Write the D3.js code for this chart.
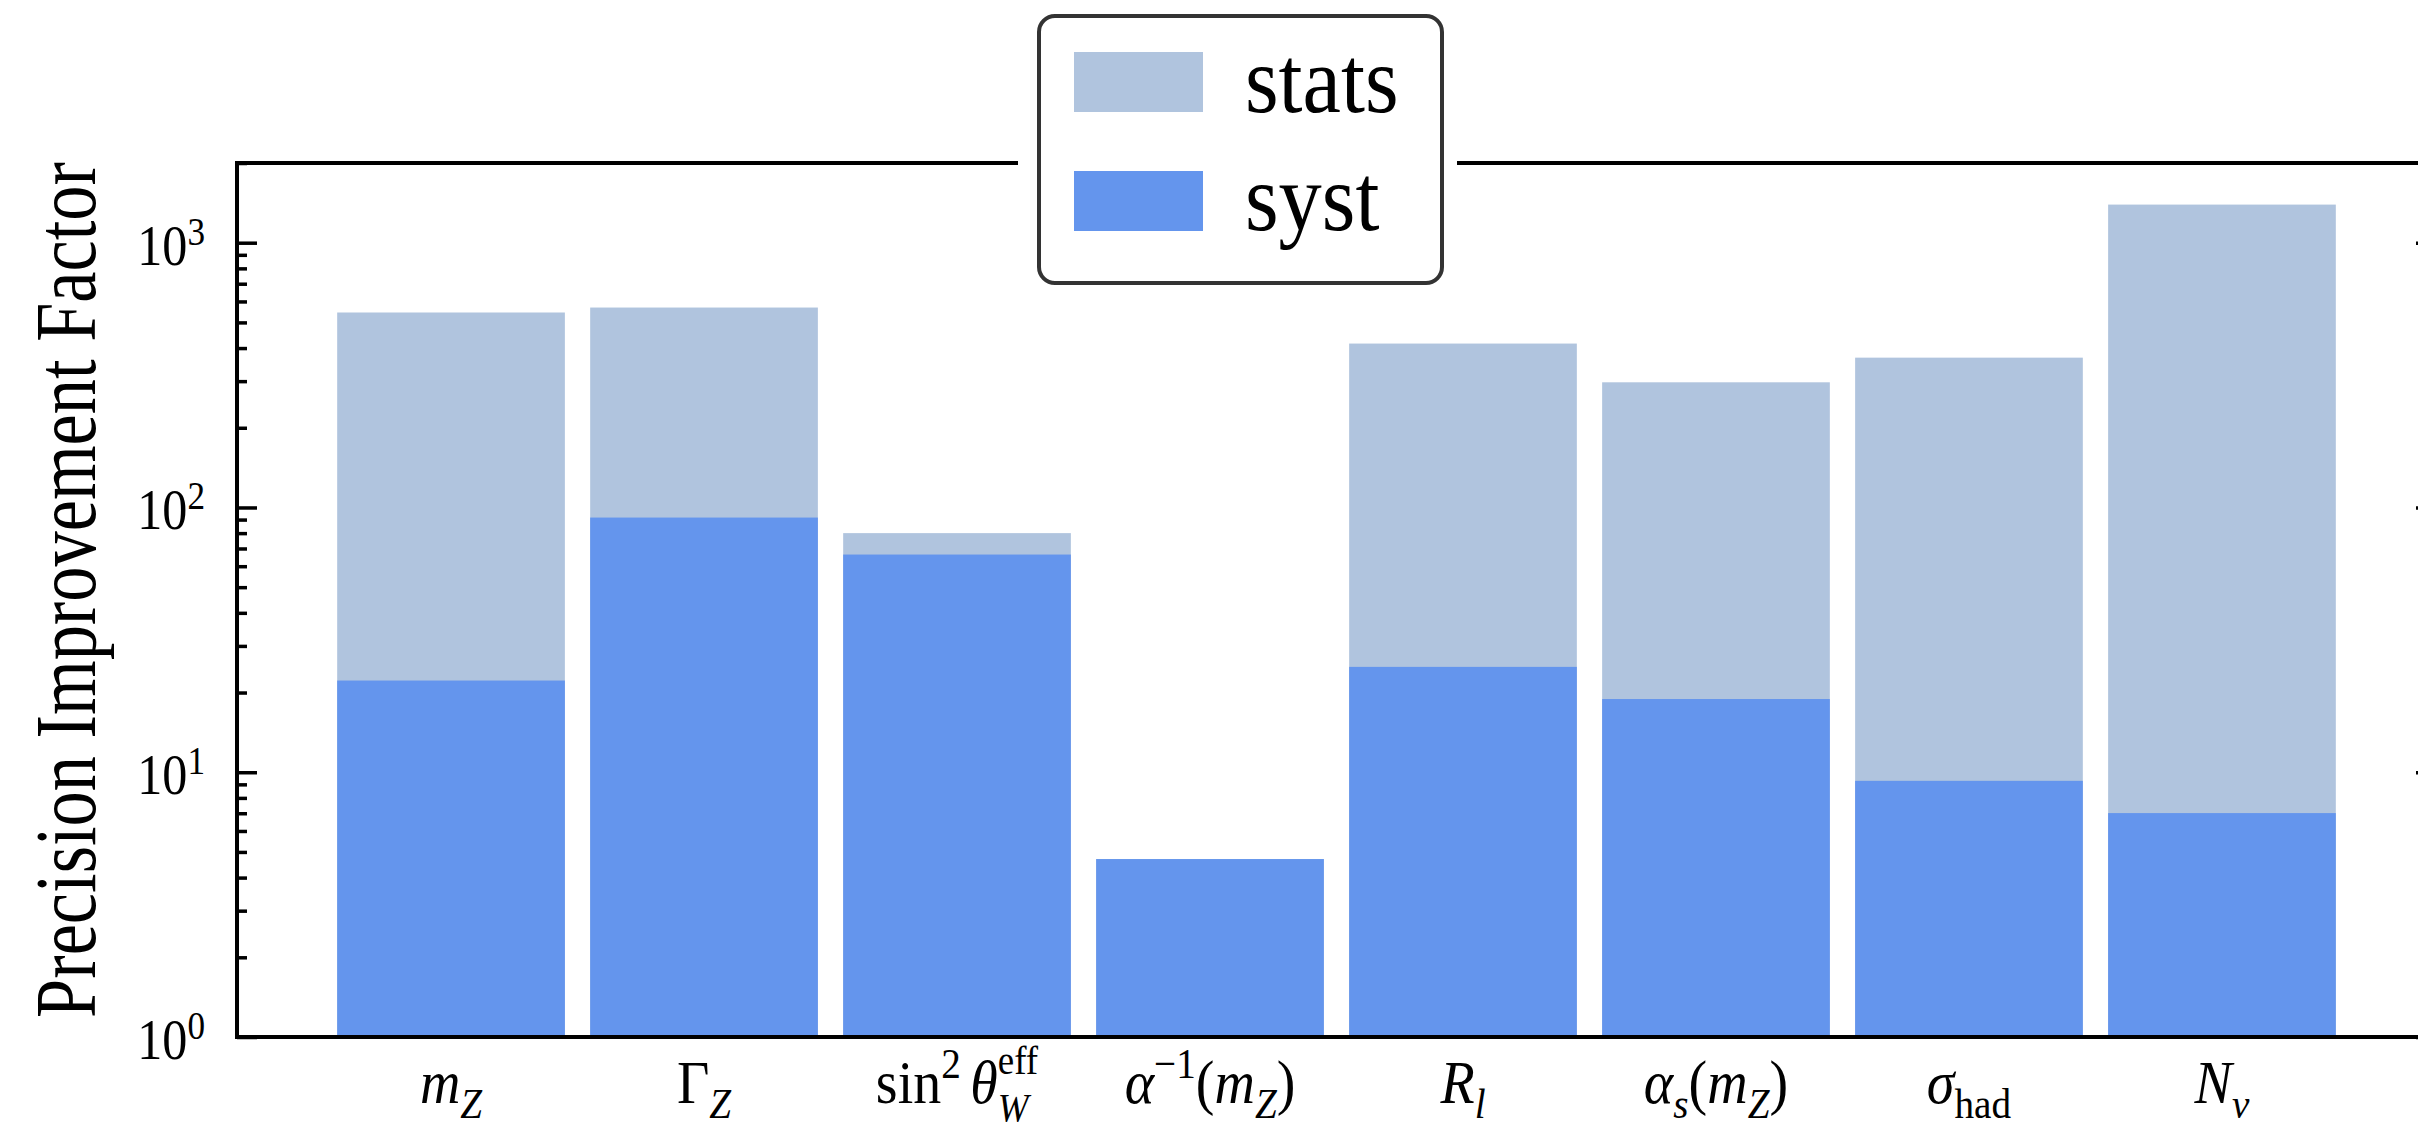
<!DOCTYPE html>
<html>
<head>
<meta charset="utf-8">
<script src="https://cdn.jsdelivr.net/npm/d3@7"></script>
<style>
  html, body { margin: 0; padding: 0; background: #ffffff; }
  svg { display: block; }
  text { font-family: "Liberation Serif", "Times New Roman", serif; fill: #000; }
</style>
</head>
<body>
<script>
// ---------------- data ----------------
const categories = ["m_Z", "Gamma_Z", "sin2_theta_W_eff", "alpha_inv_mZ", "R_l", "alpha_s_mZ", "sigma_had", "N_nu"];
const statsValues = [545, 569, 80, 4.7, 416, 297, 368, 1393];
const systValues  = [22.2, 91.6, 66.4, 4.7, 25.0, 18.9, 9.28, 7.01];
const seriesNames = ["stats", "syst"];
const yMajorTicks = [1, 10, 100, 1000];
const yTickBase = ["10", "10", "10", "10"];
const yTickExp = ["0", "1", "2", "3"];
const yLabel = "Precision Improvement Factor";
// tick label pieces (math typesetting)
const xTickLabels = [
  [{t: "m", it: 1}, {t: "Z", it: 1, sub: 1}],
  [{t: "\u0393"}, {t: "Z", it: 1, sub: 1}],
  [{t: "sin"}, {t: "2", sup: 1}, {t: "\u03B8", it: 1, gap: 0.17}, {t: "W", it: 1, sub: 1, stack: 1}, {t: "eff", sup: 1, back: 1, stack: 1}],
  [{t: "\u03B1", it: 1}, {t: "\u22121", sup: 1}, {t: "("}, {t: "m", it: 1}, {t: "Z", it: 1, sub: 1}, {t: ")"}],
  [{t: "R", it: 1}, {t: "l", it: 1, sub: 1}],
  [{t: "\u03B1", it: 1}, {t: "s", it: 1, sub: 1}, {t: "("}, {t: "m", it: 1}, {t: "Z", it: 1, sub: 1}, {t: ")"}],
  [{t: "\u03C3", it: 1}, {t: "had", sub: 1}],
  [{t: "N", it: 1}, {t: "\u03BD", it: 1, sub: 1}]
];

// ---------------- layout ----------------
const W = 2418, H = 1131;
const plotLeft = 237, plotRight = 2436, plotTop = 163, plotBottom = 1037;
const statsColor = "#B0C4DE", systColor = "#6495ED";

const svg = d3.select("body").append("svg").attr("width", W).attr("height", H);

const x = d3.scaleLinear()
  .domain([-0.846, categories.length - 1 + 0.846])
  .range([plotLeft, plotRight]);
const y = d3.scaleLog().domain([1, 2000]).range([plotBottom, plotTop]);
const barW = x(0.9) - x(0);

// bars (overlaid, stats behind syst)
svg.append("g").selectAll("rect").data(statsValues).join("rect")
  .attr("x", (d, i) => x(i - 0.45))
  .attr("y", d => y(d))
  .attr("width", barW)
  .attr("height", d => y(1) - y(d))
  .attr("fill", statsColor);
svg.append("g").selectAll("rect").data(systValues).join("rect")
  .attr("x", (d, i) => x(i - 0.45))
  .attr("y", d => y(d))
  .attr("width", barW)
  .attr("height", d => y(1) - y(d))
  .attr("fill", systColor);

// ticks
const allTicks = y.ticks();
const minorTicks = allTicks.filter(v => !yMajorTicks.includes(v));

function styleAxis(g) {
  g.select(".domain").remove();
  g.selectAll(".tick line").attr("stroke", "#000").attr("stroke-width", 3.5);
  g.selectAll(".tick text").remove();
}
svg.append("g").attr("transform", `translate(${plotLeft},0)`)
  .call(d3.axisLeft(y).tickValues(yMajorTicks).tickSize(-20).tickFormat("")).call(styleAxis);
svg.append("g").attr("transform", `translate(${plotLeft},0)`)
  .call(d3.axisLeft(y).tickValues(minorTicks).tickSize(-10).tickFormat("")).call(styleAxis);
svg.append("g").attr("transform", `translate(${plotRight},0)`)
  .call(d3.axisRight(y).tickValues(yMajorTicks).tickSize(-20).tickFormat("")).call(styleAxis);
svg.append("g").attr("transform", `translate(${plotRight},0)`)
  .call(d3.axisRight(y).tickValues(minorTicks).tickSize(-10).tickFormat("")).call(styleAxis);

// spines
const spines = svg.append("g").attr("stroke", "#000").attr("stroke-width", 4).attr("stroke-linecap", "square");
spines.append("line").attr("x1", plotLeft).attr("x2", plotLeft).attr("y1", plotTop).attr("y2", plotBottom);
spines.append("line").attr("x1", plotRight).attr("x2", plotRight).attr("y1", plotTop).attr("y2", plotBottom);
spines.append("line").attr("x1", plotLeft).attr("x2", plotRight).attr("y1", plotBottom).attr("y2", plotBottom);
spines.append("line").attr("x1", plotLeft).attr("x2", plotRight).attr("y1", plotTop).attr("y2", plotTop);

// y tick labels (slightly condensed glyphs like the reference)
const yLab = svg.append("g");
yMajorTicks.forEach((v, i) => {
  const g = yLab.append("g").attr("transform", `translate(205,${y(v) + 22}) scale(0.88,1)`);
  const t = g.append("text").attr("x", 0).attr("y", 0)
    .attr("text-anchor", "end")
    .attr("font-size", 57);
  t.append("tspan").text(yTickBase[i]);
  t.append("tspan").attr("font-size", 40).attr("dy", -20).text(yTickExp[i]);
});

// y axis label (tall, condensed glyphs)
{
  const g = svg.append("g");
  const t = g.append("text").attr("x", 0).attr("y", 0)
    .attr("text-anchor", "middle")
    .attr("font-size", 86)
    .text(yLabel);
  const len = t.node().getComputedTextLength();
  const sx = 856 / len;
  g.attr("transform", `translate(95,${(plotTop + plotBottom) / 2 - 10}) rotate(-90) scale(${sx},1)`);
}

// x tick labels (math) — one text element per label, pieces as positioned tspans
function drawMath(parent, pieces, cx, baseline, fs, sy) {
  const outer = parent.append("g");
  const text = outer.append("text").attr("x", 0).attr("y", 0);
  let cursor = 0, lastStart = 0;
  pieces.forEach(p => {
    const small = p.sub || p.sup;
    const size = p.stack ? fs * 0.66 : small ? fs * 0.7 : fs;
    const dy = p.sub ? fs * (p.stack ? 0.3 : 0.25) : p.sup ? -fs * (p.stack ? 0.47 : 0.4) : 0;
    const startX = p.back ? lastStart : cursor + (p.gap || 0) * fs;
    const node = text.append("tspan")
      .attr("x", startX).attr("y", dy)
      .attr("font-size", size)
      .attr("font-style", p.it ? "italic" : "normal")
      .text(p.t);
    const w = node.node().getComputedTextLength();
    if (p.back) {
      cursor = Math.max(cursor, startX + w);
    } else {
      lastStart = startX;
      cursor = startX + w;
    }
  });
  outer.attr("transform", `translate(${cx - cursor / 2},${baseline}) scale(1,${sy})`);
}
const xLab = svg.append("g");
categories.forEach((c, i) => drawMath(xLab, xTickLabels[i], x(i), 1103, 56, 1.1));

// legend
const lg = svg.append("g");
lg.append("rect").attr("x", 1018).attr("y", 8).attr("width", 439).attr("height", 285).attr("fill", "#fff");
lg.append("rect").attr("x", 1039).attr("y", 16).attr("width", 403).attr("height", 267)
  .attr("rx", 16).attr("ry", 16)
  .attr("fill", "#fff").attr("stroke", "#333").attr("stroke-width", 4);
const legendColors = [statsColor, systColor];
seriesNames.forEach((n, i) => {
  lg.append("rect").attr("x", 1074).attr("y", 52 + i * 119).attr("width", 129).attr("height", 60)
    .attr("fill", legendColors[i]);
  const g = lg.append("g").attr("transform", `translate(1245,${112 + i * 118}) scale(0.9,1)`);
  g.append("text").attr("x", 0).attr("y", 0).attr("font-size", 96).text(n);
});
</script>
</body>
</html>
